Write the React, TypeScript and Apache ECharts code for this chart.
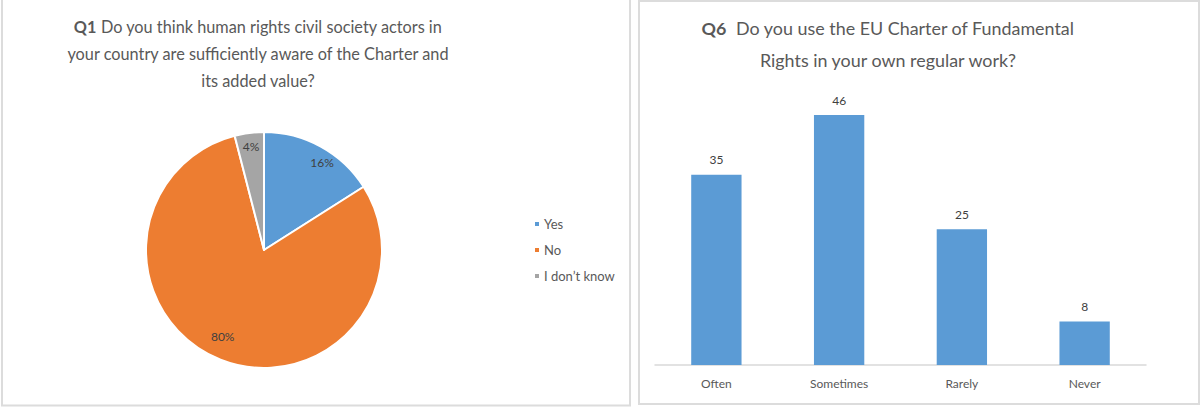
import React, { useEffect, useRef } from "react";
import * as echarts from "echarts";

const pieNames = ["Yes", "No", "I don\u2019t know"];
const pieValues = [16, 80, 4];
const pieColors = ["#5b9bd5", "#ed7d31", "#a5a5a5"];

const barCategories = ["Often", "Sometimes", "Rarely", "Never"];
const barValues = [35, 46, 25, 8];

const FONT = "Lato, 'Liberation Sans', sans-serif";
const labelNudge = [[8, 4], [-3, -10], [0, 0]];

export default function App() {
  const ref = useRef<HTMLDivElement>(null);
  useEffect(() => {
    document.body.style.margin = "0";
    const chart = echarts.init(ref.current!, null, { renderer: "svg" });
    const pieData = pieNames.map((n, i) => ({ name: n, value: pieValues[i], itemStyle: { color: pieColors[i] } }));
    chart.setOption({
      animation: false,
      textStyle: { fontFamily: FONT },
      graphic: [
        { type: "rect", shape: { x: 2, y: -5, width: 628, height: 410.5 }, style: { fill: "none", stroke: "#dcdcdc", lineWidth: 2 }, silent: true },
        { type: "rect", shape: { x: 639, y: 1, width: 560, height: 403 }, style: { fill: "none", stroke: "#dcdcdc", lineWidth: 2 }, silent: true },
        {
          type: "text",
          x: 258,
          y: 13,
          style: {
            text: "{b|Q1} Do you think human rights civil society actors in\nyour country are sufficiently aware of the Charter and\nits added value?",
            fontFamily: FONT,
            fontSize: 16.3,
            lineHeight: 27,
            fill: "#595959",
            align: "center",
            verticalAlign: "top",
            rich: { b: { fontWeight: "bold", fontSize: 16.3, fontFamily: FONT, fill: "#595959", lineHeight: 27 } },
          },
        },
        {
          type: "text",
          x: 888,
          y: 12,
          style: {
            text: "{b|Q6}  Do you use the EU Charter of Fundamental\nRights in your own regular work?",
            fontFamily: FONT,
            fontSize: 17.9,
            lineHeight: 32,
            fill: "#595959",
            align: "center",
            verticalAlign: "top",
            rich: { b: { fontWeight: "bold", fontSize: 17.9, fontFamily: FONT, fill: "#595959", lineHeight: 32 } },
          },
        },
      ],
      legend: {
        orient: "vertical",
        left: 533,
        top: 217.5,
        padding: 0,
        icon: "rect",
        itemWidth: 6,
        itemHeight: 6,
        itemGap: 13,
        data: pieNames,
        textStyle: { fontSize: 13, color: "#595959", fontFamily: FONT, padding: [0, 0, 0, -1] },
      },
      grid: { left: 655, right: 55, top: 93.3, bottom: 42 },
      xAxis: {
        type: "category",
        data: barCategories,
        axisLine: { lineStyle: { color: "#d9d9d9", width: 1.5 } },
        axisTick: { show: false },
        axisLabel: { fontSize: 12, color: "#595959", margin: 12, fontFamily: FONT },
      },
      yAxis: { type: "value", min: 0, max: 50, show: false, splitLine: { show: false } },
      series: [
        {
          type: "pie",
          center: [264, 250],
          radius: [0, 118],
          startAngle: 90,
          clockwise: true,
          data: pieData,
          label: { show: false },
          labelLine: { show: false },
          itemStyle: { borderColor: "#ffffff", borderWidth: 2 },
          emphasis: { disabled: true },
        },
        {
          type: "pie",
          center: [264, 250],
          radius: [84, 118],
          startAngle: 90,
          clockwise: true,
          silent: true,
          data: pieNames.map((n, i) => ({ name: n, value: pieValues[i], itemStyle: { color: "rgba(0,0,0,0)" } })),
          label: { show: true, position: "inside", formatter: "{c}%", fontSize: 12, color: "#404040", fontFamily: FONT },
          labelLayout: (p: any) => ({ dx: labelNudge[p.dataIndex][0], dy: labelNudge[p.dataIndex][1] }),
          labelLine: { show: false },
          emphasis: { disabled: true },
        },
        {
          type: "bar",
          data: barValues,
          barCategoryGap: "59%",
          itemStyle: { color: "#5b9bd5" },
          label: { show: true, position: "top", distance: 9, fontSize: 12, color: "#404040", fontFamily: FONT },
          emphasis: { disabled: true },
        },
      ],
    });
    return () => chart.dispose();
  }, []);
  return <div ref={ref} style={{ width: 1201, height: 407 }} />;
}
